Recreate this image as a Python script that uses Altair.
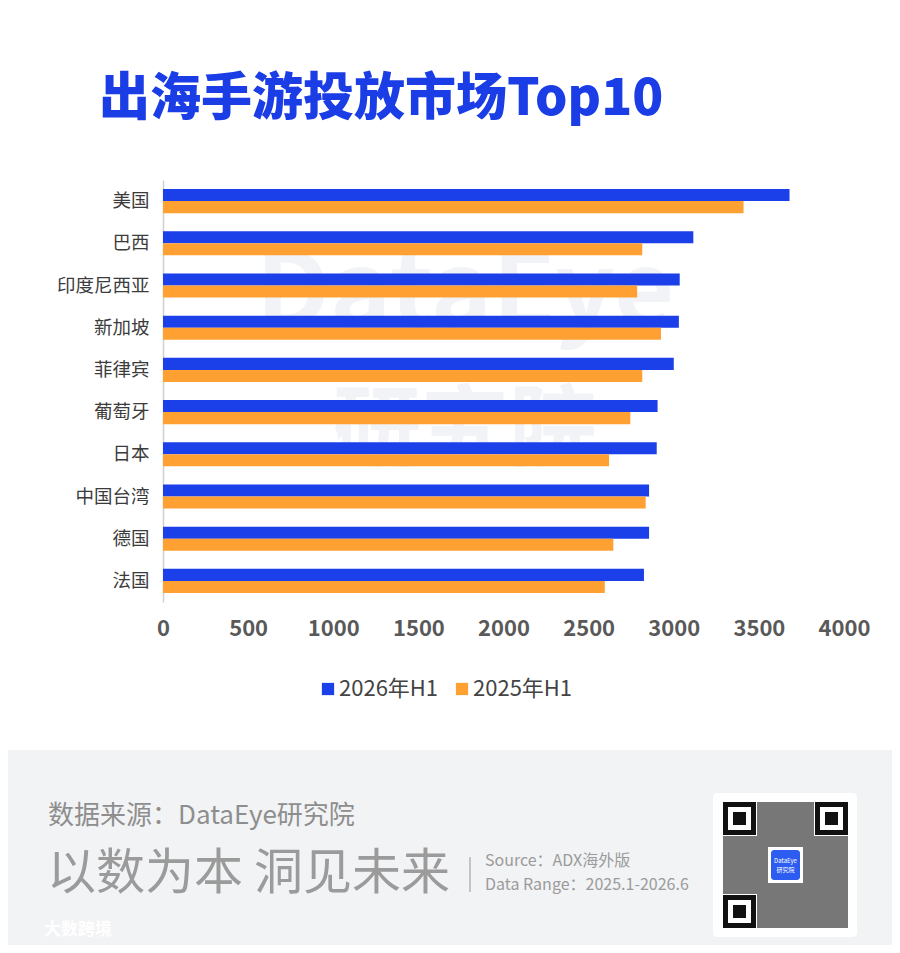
import altair as alt
import pandas as pd

# ---------------- data ----------------
countries = ["美国", "巴西", "印度尼西亚", "新加坡", "菲律宾", "葡萄牙", "日本", "中国台湾", "德国", "法国"]
v2026 = [3680, 3115, 3035, 3030, 3000, 2905, 2900, 2855, 2855, 2825]
v2025 = [3410, 2815, 2785, 2925, 2815, 2745, 2620, 2835, 2645, 2595]
series = ["2026年H1", "2025年H1"]
colors = ["#1b3fe8", "#ffa033"]
x_ticks = [0, 500, 1000, 1500, 2000, 2500, 3000, 3500, 4000]

rows = []
for c, a, b in zip(countries, v2026, v2025):
    rows.append({"country": c, "series": series[0], "value": a})
    rows.append({"country": c, "series": series[1], "value": b})
df = pd.DataFrame(rows)

FONT = "Noto Sans CJK SC"
OX, OY = 163, 180          # page position of plot origin


def px(x):
    return x - OX


def py(y):
    return y - OY


one = alt.Data(values=[{"k": 1}])


def txt(text, x, y, size, color, weight="normal", align="left", baseline="middle"):
    return alt.Chart(one).mark_text(
        text=text, align=align, baseline=baseline, fontSize=size, color=color,
        fontWeight=weight, font=FONT
    ).encode(x=alt.value(px(x)), y=alt.value(py(y)))


def rect(x1, y1, x2, y2, color, **kw):
    return alt.Chart(one).mark_rect(color=color, **kw).encode(
        x=alt.value(px(x1)), x2=alt.value(px(x2)),
        y=alt.value(py(y1)), y2=alt.value(py(y2)))


# ---------------- main bars ----------------
bars = alt.Chart(df).mark_bar().encode(
    x=alt.X("value:Q", scale=alt.Scale(domain=[0, 4000], nice=False),
            axis=alt.Axis(values=x_ticks, format="d", title=None, domain=False, ticks=False,
                          grid=False, labelFontSize=22, labelFontWeight="bold",
                          labelColor="#595959", labelFont=FONT, labelPadding=16,
                          labelFlush=False)),
    y=alt.Y("country:N", sort=countries,
            scale=alt.Scale(paddingInner=0.43, paddingOuter=0.215),
            axis=alt.Axis(title=None, ticks=False, domainColor="#d0d0d0", domainWidth=1.5,
                          labelFontSize=18.5, labelColor="#3c3c3c", labelFont=FONT,
                          labelPadding=14)),
    yOffset=alt.YOffset("series:N", sort=series,
                        scale=alt.Scale(paddingInner=0, paddingOuter=0)),
    color=alt.Color("series:N", sort=series,
                    scale=alt.Scale(domain=series, range=colors),
                    legend=alt.Legend(title=None, orient="none", legendX=px(317), legendY=py(678),
                                      direction="horizontal", symbolType="square",
                                      symbolSize=150, symbolStrokeWidth=0,
                                      labelFontSize=22, labelColor="#444444", labelFont=FONT,
                                      columnPadding=12, labelOffset=0)),
)

# ---------------- decorations ----------------
layers = []
# faint watermark
layers.append(txt("DataEye", 465, 296, 104, "#f1f3f7", weight="bold", align="center"))
layers.append(txt("研究院", 465, 432, 88, "#f1f3f7", weight="bold", align="center"))
layers.append(bars)
# title
layers.append(txt("出海手游投放市场Top10", 99, 100, 51, "#1a3de6", weight=900))
# footer background
layers.append(rect(8, 750, 892, 945, "#f2f3f5"))
layers.append(txt("数据来源：DataEye研究院", 48, 816, 26, "#8e8e8e"))
layers.append(txt("以数为本 洞见未来", 47, 874, 49, "#9b9b9b"))
layers.append(alt.Chart(one).mark_rule(color="#b5b5b5", strokeWidth=1.5).encode(
    x=alt.value(px(470)), y=alt.value(py(857)), y2=alt.value(py(892))))
layers.append(txt("Source：ADX海外版", 485, 861, 16, "#9b9b9b"))
layers.append(txt("Data Range：2025.1-2026.6", 485, 885, 16, "#9b9b9b"))
layers.append(txt("大数跨境", 44, 930, 17, "#ffffff", weight="bold"))
# QR code box
layers.append(rect(713, 793, 857, 937, "#ffffff", cornerRadius=4))
layers.append(rect(723, 802, 848, 928, "#4a4a4a", opacity=0.75))
for fx, fy in [(723, 802), (815, 802), (723, 895)]:
    layers.append(rect(fx - 1, fy - 1, fx + 34, fy + 34, "#ffffff"))
    layers.append(rect(fx, fy, fx + 33, fy + 33, "#111111"))
    layers.append(rect(fx + 5, fy + 5, fx + 28, fy + 28, "#ffffff"))
    layers.append(rect(fx + 10, fy + 10, fx + 23, fy + 23, "#111111"))
layers.append(rect(768, 847, 803, 883, "#ffffff"))
layers.append(rect(771, 850, 800, 880, "#2d5cf0", cornerRadius=3))
layers.append(txt("DataEye", 785.5, 861, 6, "#ffffff", align="center"))
layers.append(txt("研究院", 785.5, 870, 6, "#ffffff", align="center"))

chart = alt.layer(*layers).properties(
    width=681, height=422,
    autosize=alt.AutoSizeParams(type="none"),
    padding={"left": 155, "top": 172, "right": 48, "bottom": 343},
).configure_view(stroke=None)

chart.save("out.html", embed_options={"renderer": "svg", "actions": False})
